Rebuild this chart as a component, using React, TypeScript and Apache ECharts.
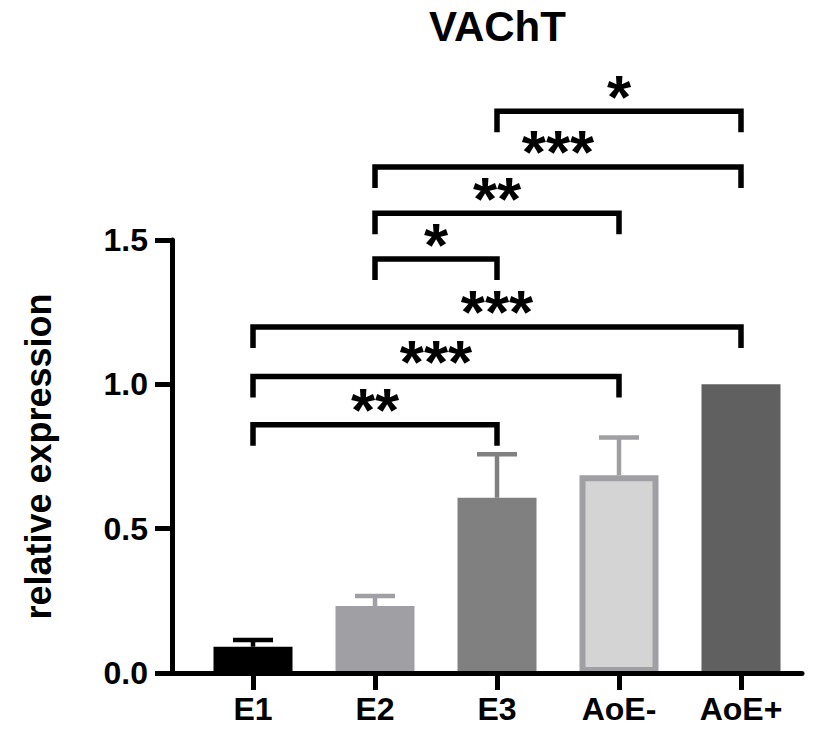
import React, { useEffect, useRef } from "react";
import * as echarts from "echarts";

// ---------- data ----------
const chartTitle = "VAChT";
const yAxisName = "relative expression";
const categories = ["E1", "E2", "E3", "AoE-", "AoE+"];
const means = [0.091, 0.232, 0.607, 0.685, 1.0];
const upperErrors = [0.114, 0.267, 0.758, 0.816, 1.0];
const yTickValues = [0, 0.5, 1.0, 1.5];
const bracketFrom = [0, 0, 0, 1, 1, 1, 2];
const bracketTo = [2, 3, 4, 2, 3, 4, 4];
const bracketHeights = [0.86, 1.027, 1.199, 1.434, 1.593, 1.753, 1.946];
const bracketLabels = ["**", "***", "***", "*", "**", "***", "*"];

// ---------- styles ----------
const FONT = '"Liberation Sans", Arial, Helvetica, sans-serif';
const fillColors = ["#000000", "#a0a0a4", "#808080", "#d4d4d4", "#606060"];
const edgeColors = ["#000000", "#a0a0a4", "#808080", "#a0a0a4", "#606060"];

export default function App() {
  const ref = useRef<HTMLDivElement>(null);

  useEffect(() => {
    document.body.style.margin = "0";
    if (!ref.current) return;
    const chart = echarts.init(ref.current, null, { renderer: "svg" });
    const tickIdx = categories.map((_, i) => i);

    const option: any = {
      animation: false,
      backgroundColor: "#ffffff",
      title: {
        text: chartTitle,
        left: 424,
        top: 0,
        textStyle: { fontSize: 42, fontWeight: "bold", fontFamily: FONT, color: "#000" },
      },
      grid: { left: 172, right: 11, top: 240, bottom: 63, containLabel: false },
      xAxis: {
        type: "value",
        min: -0.664,
        max: 4.5,
        z: 10,
        axisLine: { show: true, onZero: false, lineStyle: { color: "#000", width: 5 } },
        axisTick: { show: true, customValues: tickIdx, length: 17, lineStyle: { color: "#000", width: 5 } },
        axisLabel: {
          customValues: tickIdx,
          formatter: (v: number) => categories[Math.round(v)] ?? "",
          margin: 20,
          color: "#000",
          fontSize: 32,
          fontWeight: "bold",
          fontFamily: FONT,
        },
        splitLine: { show: false },
      },
      yAxis: {
        type: "value",
        min: 0,
        max: 1.5,
        interval: 0.5,
        z: 10,
        name: yAxisName,
        nameLocation: "middle",
        nameRotate: 90,
        nameGap: 116,
        nameMoveOverlap: false,
        nameTextStyle: { fontSize: 36, fontWeight: "bold", fontFamily: FONT, color: "#000" },
        axisLine: { show: true, onZero: false, lineStyle: { color: "#000", width: 5 } },
        axisTick: { show: true, length: 17, lineStyle: { color: "#000", width: 5 } },
        axisLabel: {
          customValues: yTickValues,
          formatter: (v: number) => v.toFixed(1),
          margin: 24,
          color: "#000",
          fontSize: 32,
          fontWeight: "bold",
          fontFamily: FONT,
        },
        splitLine: { show: false },
      },
      series: [
        {
          type: "bar",
          barWidth: 79,
          z: 2,
          data: means.map((m, i) => ({
            value: [i, m],
            itemStyle: {
              color: fillColors[i],
              borderColor: edgeColors[i],
              borderWidth: i === 3 ? 6 : 0,
            },
          })),
        },
        {
          type: "custom",
          z: 3,
          clip: false,
          data: means.map((m, i) => [i, m, upperErrors[i]]),
          renderItem: (params: any, api: any) => {
            const i = params.dataIndex;
            const lo = api.coord([api.value(0), api.value(1)]);
            const hi = api.coord([api.value(0), api.value(2)]);
            if (hi[1] > lo[1] - 1) return { type: "group", children: [] };
            const st = { stroke: edgeColors[i], lineWidth: 4.5, lineCap: "butt" };
            return {
              type: "group",
              children: [
                { type: "line", shape: { x1: lo[0], y1: lo[1], x2: hi[0], y2: hi[1] }, style: st },
                { type: "line", shape: { x1: hi[0] - 20, y1: hi[1], x2: hi[0] + 20, y2: hi[1] }, style: st },
              ],
            };
          },
        },
        {
          type: "custom",
          z: 4,
          clip: false,
          data: bracketHeights.map((h, k) => [bracketFrom[k], bracketTo[k], h]),
          renderItem: (params: any, api: any) => {
            const k = params.dataIndex;
            const a = api.coord([api.value(0), api.value(2)]);
            const b = api.coord([api.value(1), api.value(2)]);
            const leg = 21;
            return {
              type: "group",
              children: [
                {
                  type: "polyline",
                  shape: {
                    points: [
                      [a[0], a[1] + leg],
                      [a[0], a[1]],
                      [b[0], b[1]],
                      [b[0], b[1] + leg],
                    ],
                  },
                  style: { stroke: "#000", lineWidth: 5.5, fill: null, lineJoin: "miter", lineCap: "butt" },
                },
                {
                  type: "text",
                  x: (a[0] + b[0]) / 2,
                  y: a[1] - 15,
                  style: {
                    text: bracketLabels[k],
                    fill: "#000",
                    font: `bold 62px ${FONT}`,
                    textAlign: "center",
                    textVerticalAlign: "middle",
                    align: "center",
                    verticalAlign: "middle",
                  },
                },
              ],
            };
          },
        },
      ],
    };

    chart.setOption(option);
    return () => chart.dispose();
  }, []);

  return <div ref={ref} style={{ width: 813, height: 736 }} />;
}
